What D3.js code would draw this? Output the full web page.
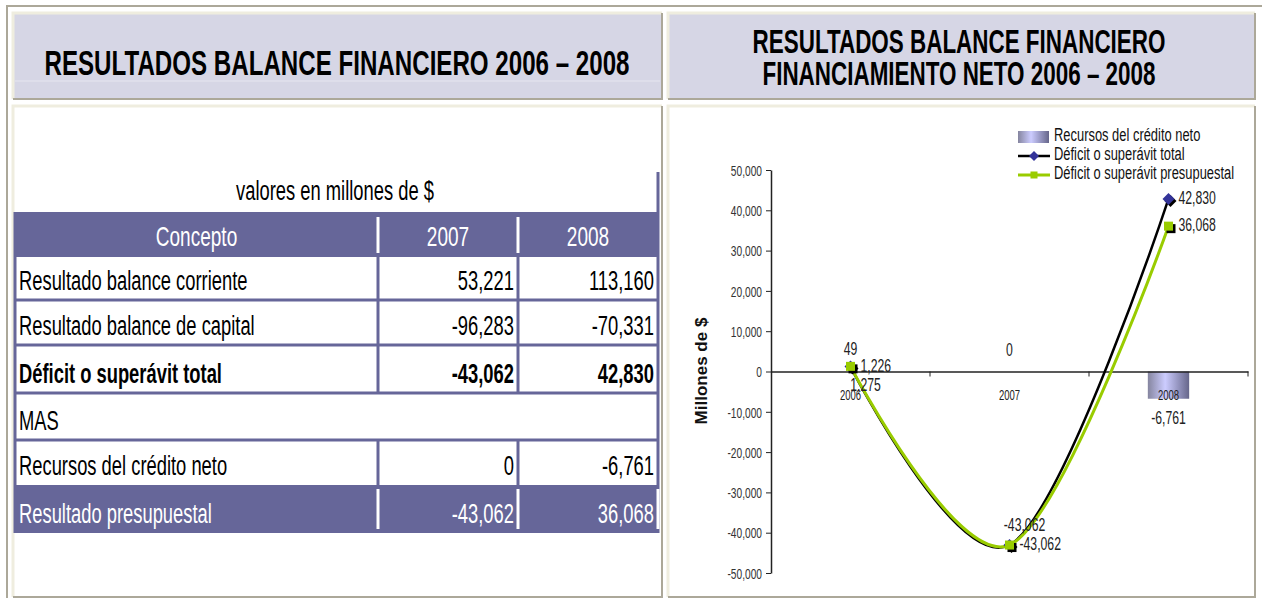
<!DOCTYPE html>
<html>
<head>
<meta charset="utf-8">
<script src="https://cdn.jsdelivr.net/npm/d3@7"></script>
<style>
  html, body { margin: 0; padding: 0; background: #fff; }
  svg { display: block; }
</style>
</head>
<body>
<div id="page"></div>
<script>
(function(){
  var width = 1262;
  var height = 598;
  var FONT = "'Liberation Sans', Arial, sans-serif";
  var SX = 0.68; // narrow look: regular sans squeezed horizontally
  var purple = '#666699';

  // table data
  var tableYears = ['2007', '2008'];
  var conceptos = ['Resultado balance corriente', 'Resultado balance de capital', 'Déficit o superávit total',
                   'MAS', 'Recursos del crédito neto', 'Resultado presupuestal'];
  var valores2007 = [53221, -96283, -43062, null, 0, -43062];
  var valores2008 = [113160, -70331, 42830, null, -6761, 36068];

  // chart data
  var years = ['2006', '2007', '2008'];
  var recursosNeto = [49, 0, -6761];
  var deficitTotal = [1226, -43062, 42830];
  var deficitPresup = [1275, -43062, 36068];
  var yTickValues = [-50000, -40000, -30000, -20000, -10000, 0, 10000, 20000, 30000, 40000, 50000];
  var legendLabels = ['Recursos del crédito neto', 'Déficit o superávit total', 'Déficit o superávit presupuestal'];

  var fmt = d3.formatLocale({decimal: '.', thousands: ',', grouping: [3], currency: ['$', ''], minus: '-'}).format(',');

  var svg = d3.select('#page').append('svg')
      .attr('width', width)
      .attr('height', height);

  function addText(parent, x, y, str, o){
    o = o || {};
    var sx = o.sx || SX;
    return parent.append('text')
      .attr('transform', 'translate(' + x + ',' + y + ') scale(' + sx + ',1)' + (o.rotate ? ' rotate(' + o.rotate + ')' : ''))
      .attr('text-anchor', o.anchor || 'start')
      .attr('font-family', FONT)
      .attr('font-size', o.size || 16)
      .attr('font-weight', o.weight || 'normal')
      .attr('fill', o.fill || '#000')
      .text(str);
  }

  // frame + panels
  svg.append('path').attr('d', 'M7,598V6H1262').attr('fill', 'none').attr('stroke', '#aca899').attr('stroke-width', 2);
  function panel(x0, y0, x1, y1, fill){
    svg.append('rect').attr('x', x0).attr('y', y0).attr('width', x1 - x0).attr('height', y1 - y0).attr('fill', fill);
    svg.append('path').attr('d', 'M' + x0 + ',' + y1 + 'V' + y0 + 'H' + x1)
      .attr('fill', 'none').attr('stroke', '#efeddf').attr('stroke-width', 3);
    svg.append('path').attr('d', 'M' + x0 + ',' + y1 + 'H' + x1 + 'V' + y0)
      .attr('fill', 'none').attr('stroke', '#aca899').attr('stroke-width', 2);
  }
  panel(13, 13, 662, 99, '#d6d6e5');
  panel(668, 13, 1255, 99, '#d6d6e5');
  panel(13, 106, 662, 597, '#fff');
  panel(668, 106, 1255, 597, '#fff');
  svg.append('line').attr('x1', 15).attr('x2', 660).attr('y1', 81).attr('y2', 81).attr('stroke', '#e6e6f0');

  // headers
  addText(svg, 337, 75, 'RESULTADOS BALANCE FINANCIERO 2006 – 2008', {anchor: 'middle', size: 35.5, weight: 'bold'});
  addText(svg, 959, 53, 'RESULTADOS BALANCE FINANCIERO', {anchor: 'middle', size: 33, weight: 'bold'});
  addText(svg, 959, 85, 'FINANCIAMIENTO NETO 2006 – 2008', {anchor: 'middle', size: 33, weight: 'bold'});

  // ---------- table ----------
  var tbl = svg.append('g');
  var colX = [15, 378, 518, 658];
  var rowEdges = [257, 300, 345, 393, 440, 485, 533];

  addText(tbl, 335, 200, 'valores en millones de $', {anchor: 'middle', size: 27});

  tbl.append('rect').attr('x', colX[0]).attr('y', 212).attr('width', colX[3] - colX[0]).attr('height', rowEdges[0] - 212).attr('fill', purple);
  tbl.append('rect').attr('x', colX[0]).attr('y', rowEdges[5]).attr('width', colX[3] - colX[0]).attr('height', rowEdges[6] - rowEdges[5]).attr('fill', purple);

  [rowEdges[1], rowEdges[2], rowEdges[3], rowEdges[4]].forEach(function(yy){
    tbl.append('line').attr('x1', colX[0]).attr('x2', colX[3]).attr('y1', yy).attr('y2', yy)
      .attr('stroke', purple).attr('stroke-width', 3);
  });
  var vSeg = [[colX[0], 212, 533, purple], [colX[3], 172, 533, purple],
              [colX[1], 257, 393, purple], [colX[2], 257, 393, purple],
              [colX[1], 440, 485, purple], [colX[2], 440, 485, purple],
              [colX[1], 217, 253, '#fff'], [colX[2], 217, 253, '#fff'],
              [colX[1], 489, 529, '#fff'], [colX[2], 489, 529, '#fff'], [colX[3], 489, 529, '#fff']];
  vSeg.forEach(function(s){
    tbl.append('line').attr('x1', s[0]).attr('x2', s[0]).attr('y1', s[1]).attr('y2', s[2])
      .attr('stroke', s[3]).attr('stroke-width', 3);
  });

  addText(tbl, (colX[0] + colX[1]) / 2, 246, 'Concepto', {anchor: 'middle', size: 28, fill: '#fff'});
  tableYears.forEach(function(yr, i){
    addText(tbl, (colX[i + 1] + colX[i + 2]) / 2, 246, yr, {anchor: 'middle', size: 28, fill: '#fff'});
  });

  conceptos.forEach(function(c, i){
    var base = rowEdges[i + 1] - 10;
    var o = {size: 27, weight: i === 2 ? 'bold' : 'normal', fill: i === 5 ? '#fff' : '#000'};
    addText(tbl, 19, base, c, o);
    [valores2007[i], valores2008[i]].forEach(function(v, j){
      if (v === null) return;
      addText(tbl, colX[j + 2] - 4, base, fmt(v), {anchor: 'end', size: 27, weight: o.weight, fill: o.fill});
    });
  });

  // ---------- chart ----------
  var chart = svg.append('g');
  var x = d3.scaleBand().domain(years).range([771, 1248]);
  var y = d3.scaleLinear().domain([-50000, 50000]).range([573, 170]);
  var bw = x.bandwidth();
  var barW = bw * 0.26;

  var defs = svg.append('defs');
  var grad = defs.append('linearGradient').attr('id', 'barGrad').attr('x1', 0).attr('x2', 1).attr('y1', 0).attr('y2', 0);
  grad.append('stop').attr('offset', '0%').attr('stop-color', '#85859f');
  grad.append('stop').attr('offset', '42%').attr('stop-color', '#ccccff');
  grad.append('stop').attr('offset', '100%').attr('stop-color', '#66668a');

  // y axis
  var yAxis = chart.append('g').attr('transform', 'translate(771,0)')
      .call(d3.axisLeft(y).tickValues(yTickValues).tickSize(5).tickSizeOuter(0).tickFormat(fmt));
  yAxis.select('.domain').attr('stroke', '#222').attr('stroke-width', 1.5);
  yAxis.selectAll('.tick line').attr('stroke', '#222');
  yAxis.selectAll('.tick text')
      .attr('font-family', FONT).attr('font-size', 15).attr('fill', '#333')
      .attr('x', -9 / SX).attr('dy', '0.35em')
      .attr('transform', 'scale(' + SX + ',1)');

  // bars
  chart.selectAll('rect.bar').data(recursosNeto).enter().append('rect')
      .attr('class', 'bar')
      .attr('x', function(d, i){ return x(years[i]) + bw / 2 - barW / 2; })
      .attr('y', function(d){ return y(Math.max(0, d)); })
      .attr('width', barW)
      .attr('height', function(d){ return Math.abs(y(d) - y(0)); })
      .attr('fill', 'url(#barGrad)');

  // x axis
  var xAxis = chart.append('g').attr('transform', 'translate(0,' + y(0) + ')')
      .call(d3.axisBottom(x).tickSize(0).tickSizeOuter(0));
  xAxis.select('.domain').attr('stroke', '#222').attr('stroke-width', 1.5);
  xAxis.selectAll('.tick text')
      .attr('font-family', FONT).attr('font-size', 14).attr('fill', '#222')
      .attr('y', 0).attr('dy', 29)
      .attr('transform', 'scale(' + SX + ',1)');
  xAxis.selectAll('.tick')
      .attr('transform', function(d){ return 'translate(' + (x(d) + bw / 2) + ',0)'; });
  xAxis.selectAll('line.edge').data(years).enter().append('line')
      .attr('class', 'edge')
      .attr('x1', function(d){ return x(d) + bw; }).attr('x2', function(d){ return x(d) + bw; })
      .attr('y1', 0).attr('y2', 5).attr('stroke', '#222');

  // bar labels
  recursosNeto.forEach(function(v, i){
    var ly = v >= 0 ? y(v) - 16 : y(v) + 25;
    addText(chart, x(years[i]) + bw / 2, ly, fmt(v), {anchor: 'middle', size: 18, fill: '#222'});
  });

  // lines
  var cx = function(i){ return x(years[i]) + bw / 2; };
  var line = d3.line()
      .x(function(d, i){ return cx(i); })
      .y(function(d){ return y(d); })
      .curve(d3.curveCardinal.tension(0));

  var diamond = 'M0,-6L6,0L0,6L-6,0Z';
  var series = [
    {values: deficitTotal, color: '#000', w: 2.5, marker: 'diamond', fill: '#333399', labelPos: ['right', 'right', 'right']},
    {values: deficitPresup, color: '#99cc00', w: 3, marker: 'square', fill: '#99cc00', labelPos: ['below', 'above', 'right']}
  ];

  series.forEach(function(s){
    chart.append('path').datum(s.values)
      .attr('d', line).attr('fill', 'none')
      .attr('stroke', s.color).attr('stroke-width', s.w);
  });

  function marker(g, m, fill, px, py){
    if (m === 'diamond'){
      g.append('path').attr('d', diamond).attr('transform', 'translate(' + (px + 2) + ',' + (py + 2) + ')').attr('fill', '#000');
      g.append('path').attr('d', diamond).attr('transform', 'translate(' + px + ',' + py + ')').attr('fill', fill);
    } else {
      g.append('rect').attr('x', px - 4 + 2).attr('y', py - 4 + 2).attr('width', 9).attr('height', 9).attr('fill', '#000');
      g.append('rect').attr('x', px - 4.5).attr('y', py - 4.5).attr('width', 9).attr('height', 9).attr('fill', fill);
    }
  }

  series.forEach(function(s){
    s.values.forEach(function(v, i){
      marker(chart, s.marker, s.fill, cx(i), y(v));
    });
  });

  series.forEach(function(s){
    s.values.forEach(function(v, i){
      var px = cx(i), py = y(v), pos = s.labelPos[i];
      if (pos === 'right') addText(chart, px + 10, py + 5, fmt(v), {size: 18, fill: '#222'});
      else if (pos === 'above') addText(chart, px + 15, py - 14, fmt(v), {anchor: 'middle', size: 18, fill: '#222'});
      else addText(chart, px + 15, py + 25, fmt(v), {anchor: 'middle', size: 18, fill: '#222'});
    });
  });

  // y title
  addText(chart, 707, 371, 'Millones de $', {anchor: 'middle', size: 17, weight: 'bold', rotate: -90, fill: '#111', sx: 1});

  // legend
  var lg = chart.append('g');
  var lgX = 1018, lgBase = [141, 160, 179];
  lg.append('rect').attr('x', lgX).attr('y', 131).attr('width', 31).attr('height', 12).attr('fill', 'url(#barGrad)');
  series.forEach(function(s, i){
    var ly = lgBase[i + 1] - 4;
    lg.append('line').attr('x1', lgX).attr('x2', lgX + 32).attr('y1', ly).attr('y2', ly)
      .attr('stroke', s.color).attr('stroke-width', s.w);
    if (s.marker === 'diamond'){
      lg.append('path').attr('d', 'M0,-5L5,0L0,5L-5,0Z').attr('transform', 'translate(' + (lgX + 16) + ',' + ly + ')').attr('fill', s.fill);
    } else {
      lg.append('rect').attr('x', lgX + 12.5).attr('y', ly - 3.5).attr('width', 7).attr('height', 7).attr('fill', s.fill);
    }
  });
  legendLabels.forEach(function(t, i){
    addText(lg, lgX + 36, lgBase[i], t, {size: 19, fill: '#111'});
  });
})();
</script>
</body>
</html>
